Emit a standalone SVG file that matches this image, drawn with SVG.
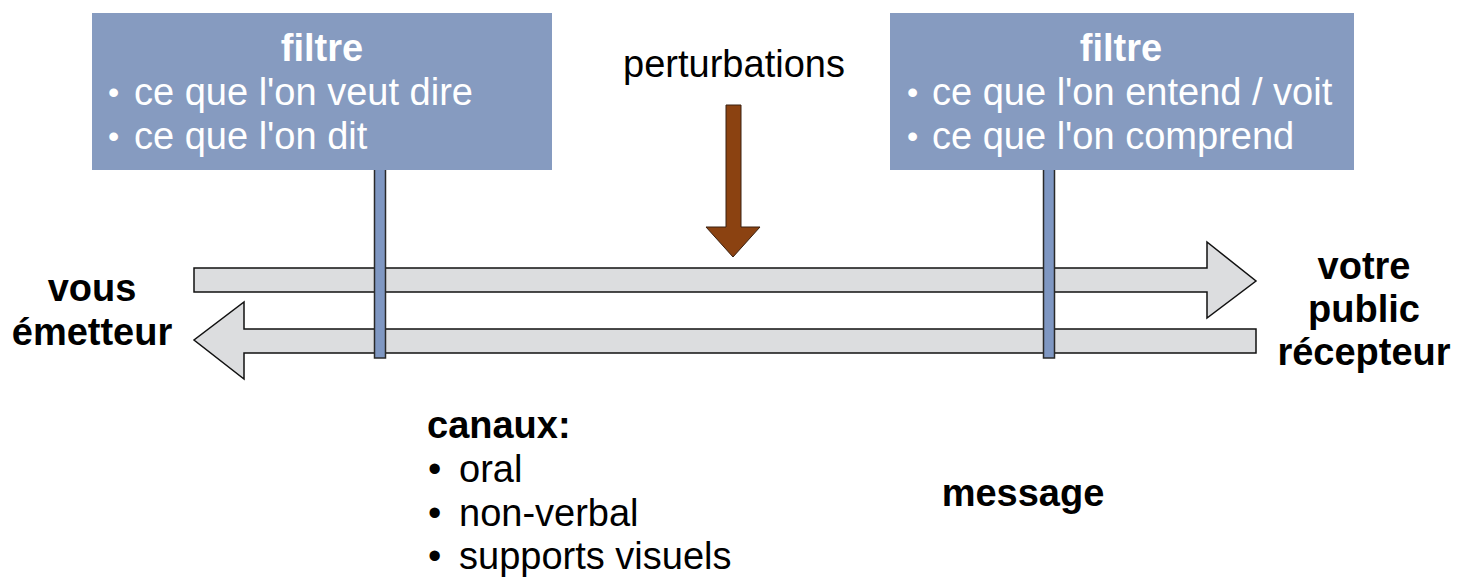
<svg xmlns="http://www.w3.org/2000/svg" width="1473" height="579" viewBox="0 0 1473 579">
<style>
text{font-family:"Liberation Sans",Arial,sans-serif;font-size:38px}
.b{font-weight:bold}
.w{fill:#fff}
.box{fill:#869BC0}
.bar{fill:#7F97C2;stroke:#2a2a2a;stroke-width:1.5}
.gray{fill:#DCDDDF;stroke:#111;stroke-width:1.5}
.brown{fill:#8B4211;stroke:#3a2010;stroke-width:1}
.sb{font-size:32px}
</style>
<rect width="1473" height="579" fill="#fff"/>
<g id="connectors">
<polygon class="gray" points="194,268 1207,268 1207,242 1256,281 1207,318 1207,292 194,292"/>
<polygon class="gray" points="1256,329 244,329 244,302 194,340 244,379 244,353 1256,353"/>
<rect class="bar" x="374.5" y="169" width="11" height="189"/>
<rect class="bar" x="1043.5" y="169" width="11" height="189"/>
<polygon class="brown" points="726,105 741,105 741,227 760,227 733,257 706,227 726,227"/>
</g>
<g id="filtre-emetteur">
<rect class="box" x="92" y="13" width="460" height="157"/>
<text class="b w" x="322" y="61" text-anchor="middle">filtre</text>
<text class="w" x="108" y="105"><tspan class="sb" dy="-2">•</tspan><tspan x="134" dy="2">ce que l'on veut dire</tspan></text>
<text class="w" x="108" y="149"><tspan class="sb" dy="-2">•</tspan><tspan x="134" dy="2">ce que l'on dit</tspan></text>
</g>
<g id="filtre-recepteur">
<rect class="box" x="890" y="13" width="464" height="157"/>
<text class="b w" x="1121" y="61" text-anchor="middle">filtre</text>
<text class="w" x="907" y="105"><tspan class="sb" dy="-2">•</tspan><tspan x="932" dy="2">ce que l'on entend / voit</tspan></text>
<text class="w" x="907" y="149"><tspan class="sb" dy="-2">•</tspan><tspan x="932" dy="2">ce que l'on comprend</tspan></text>
</g>
<g id="perturbations">
<text x="734" y="77" text-anchor="middle">perturbations</text>
</g>
<g id="emetteur">
<text class="b" x="92" y="301" text-anchor="middle">vous</text>
<text class="b" x="92" y="345" text-anchor="middle">émetteur</text>
</g>
<g id="recepteur">
<text class="b" x="1364" y="279" text-anchor="middle">votre</text>
<text class="b" x="1364" y="322" text-anchor="middle">public</text>
<text class="b" x="1364" y="365" text-anchor="middle">récepteur</text>
</g>
<g id="canaux">
<text class="b" x="427" y="438">canaux:</text>
<text x="428" y="482">•<tspan x="459">oral</tspan></text>
<text x="428" y="526">•<tspan x="459">non-verbal</tspan></text>
<text x="428" y="569">•<tspan x="459">supports visuels</tspan></text>
</g>
<g id="message">
<text class="b" x="1023" y="506" text-anchor="middle">message</text>
</g>
</svg>
